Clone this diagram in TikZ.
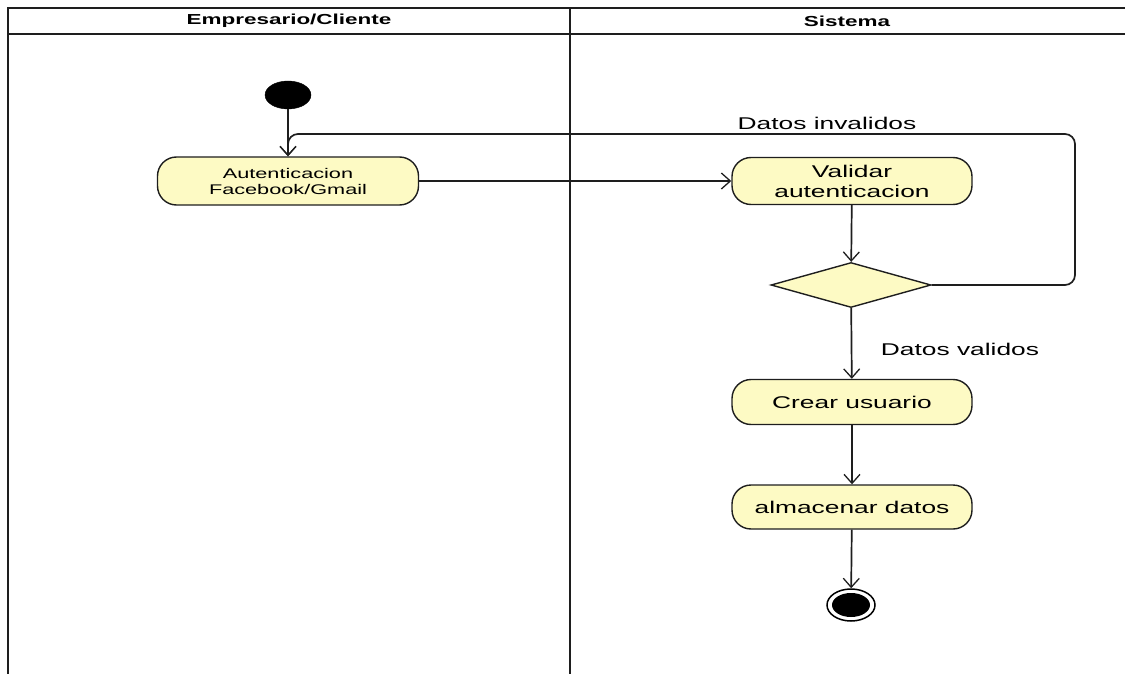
\documentclass[tikz,border=0pt]{standalone}
\usepackage{fontspec}
\setmainfont[FakeStretch=1.55]{Liberation Sans}
\usetikzlibrary{arrows.meta,shapes.geometric}
\definecolor{nodefill}{RGB}{253,250,196}
\definecolor{linegray}{RGB}{30,30,30}
\begin{document}
\begin{tikzpicture}[x=1pt,y=-1pt,
  act/.style={draw=linegray, line width=1.4pt, fill=nodefill, rounded corners=19pt,
              align=center, inner sep=0pt},
  flow/.style={draw=linegray, line width=1.7pt,
               -{Straight Barb[length=9pt,width=16pt,line width=1.3pt]}},
  lane/.style={draw=linegray, line width=2.2pt},
  hdr/.style={font=\bfseries\fontsize{14.5}{17}\selectfont},
  small/.style={font=\fontsize{14}{16}\selectfont},
  big/.style={font=\fontsize{17}{20}\selectfont}
]
\useasboundingbox (0,0) rectangle (1125,674);
% swimlanes
\draw[lane] (8,674) -- (8,8) -- (1125,8);
\draw[lane] (8,34) -- (1125,34);
\draw[lane] (570,8) -- (570,674);
\node[hdr] (h1) at (289,21) {Empresario/Cliente};
\node[hdr] (h2) at (847,21) {Sistema};
% nodes
\node[draw=black, fill=black, ellipse, minimum width=46pt, minimum height=28pt, inner sep=0pt] (start) at (288,95) {};
\node[act, small, minimum width=261pt, minimum height=48pt] (auth) at (288,181) {Autenticacion\\Facebook/Gmail};
\node[act, big, minimum width=240pt, minimum height=47pt] (val) at (852,181) {Validar\\autenticacion};
\node[diamond, draw=linegray, line width=1.4pt, fill=nodefill, minimum width=160pt, minimum height=45pt, inner sep=0pt] (dec) at (851,285) {};
\node[act, big, minimum width=240pt, minimum height=45pt] (crear) at (852,402) {Crear usuario};
\node[act, big, minimum width=240pt, minimum height=44pt] (alm) at (852,507) {almacenar datos};
\node[draw=black, line width=1.5pt, fill=white, ellipse, minimum width=48pt, minimum height=32pt, inner sep=0pt] (end) at (851,605) {};
\node[fill=black, ellipse, minimum width=38pt, minimum height=24pt, inner sep=0pt] (endin) at (851,605) {};
\coordinate (loopR) at (1075,134);
% connectors
\draw[flow] (start) -- (auth);
\draw[flow] (auth) -- (val);
\draw[flow] (val) -- (dec);
\draw[flow, rounded corners=10pt] (dec.east) -| (loopR) -| (auth.north);
\draw[flow] (dec) -- (crear);
\draw[flow] (crear) -- (alm);
\draw[flow] (alm) -- (end);
% labels
\node[big] (linv) at (827,123) {Datos invalidos};
\node[big] (lval) at (960,349) {Datos validos};
\end{tikzpicture}
\end{document}
